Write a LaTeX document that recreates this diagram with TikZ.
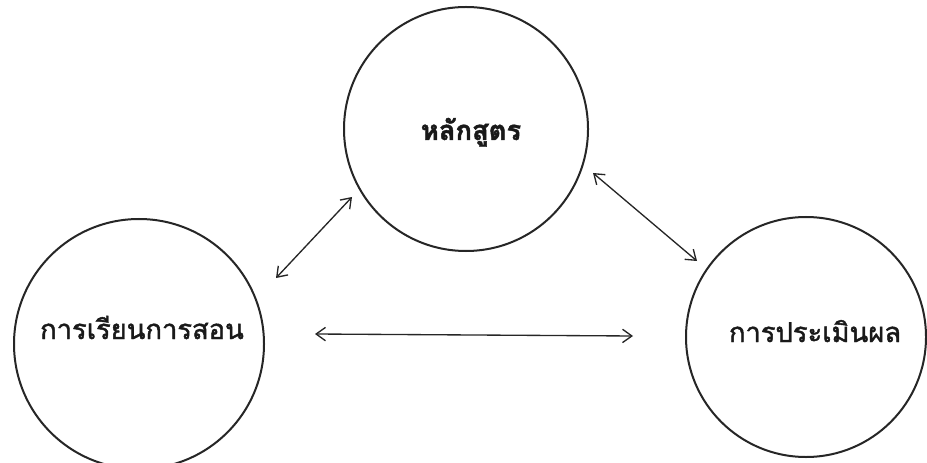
\documentclass[tikz,border=0pt]{standalone}
\usepackage{fontspec}
\newfontfamily\thaifont[Script=Thai,FakeBold=1.6]{Loma}
\newfontfamily\thaibold[Script=Thai]{Loma Bold}
\usetikzlibrary{arrows.meta,calc}
\tikzset{
  ring/.style={draw=black!85, line width=1.5pt, circle, minimum size=#1, inner sep=0pt},
  lbl/.style={font=\thaifont\fontsize{20.5}{24}\selectfont, text=black!90, inner sep=0pt, anchor=base},
  link/.style={draw=black!85, line width=1pt, {Straight Barb[length=7pt,width=10pt]}-{Straight Barb[length=7pt,width=10pt]}}
}
\begin{document}
\begin{tikzpicture}[x=0.75pt,y=-0.75pt]
\useasboundingbox[fill=white] (0,0) rectangle (927,463);
\node[ring=183pt] (T) at (466,129) {};
\node[ring=187.5pt] (L) at (139,344) {};
\node[ring=180pt] (R) at (806,337) {};
\node[lbl] (tT) at (471,140) {\textbf{หลักสูตร}};
\node[lbl] (tL) at (142,339) {การเรียนการสอน};
\node[lbl] (tR) at (815,342) {การประเมินผล};
\draw[link] ($(L)+(137,-66)$) -- ($(T)+(-114,68)$);
\draw[link] ($(T)+(127,44)$) -- ($(R)+(-109,-76)$);
\draw[link] ($(L)+(176,-10)$) -- ($(R)+(-173,-1)$);
\end{tikzpicture}
\end{document}
